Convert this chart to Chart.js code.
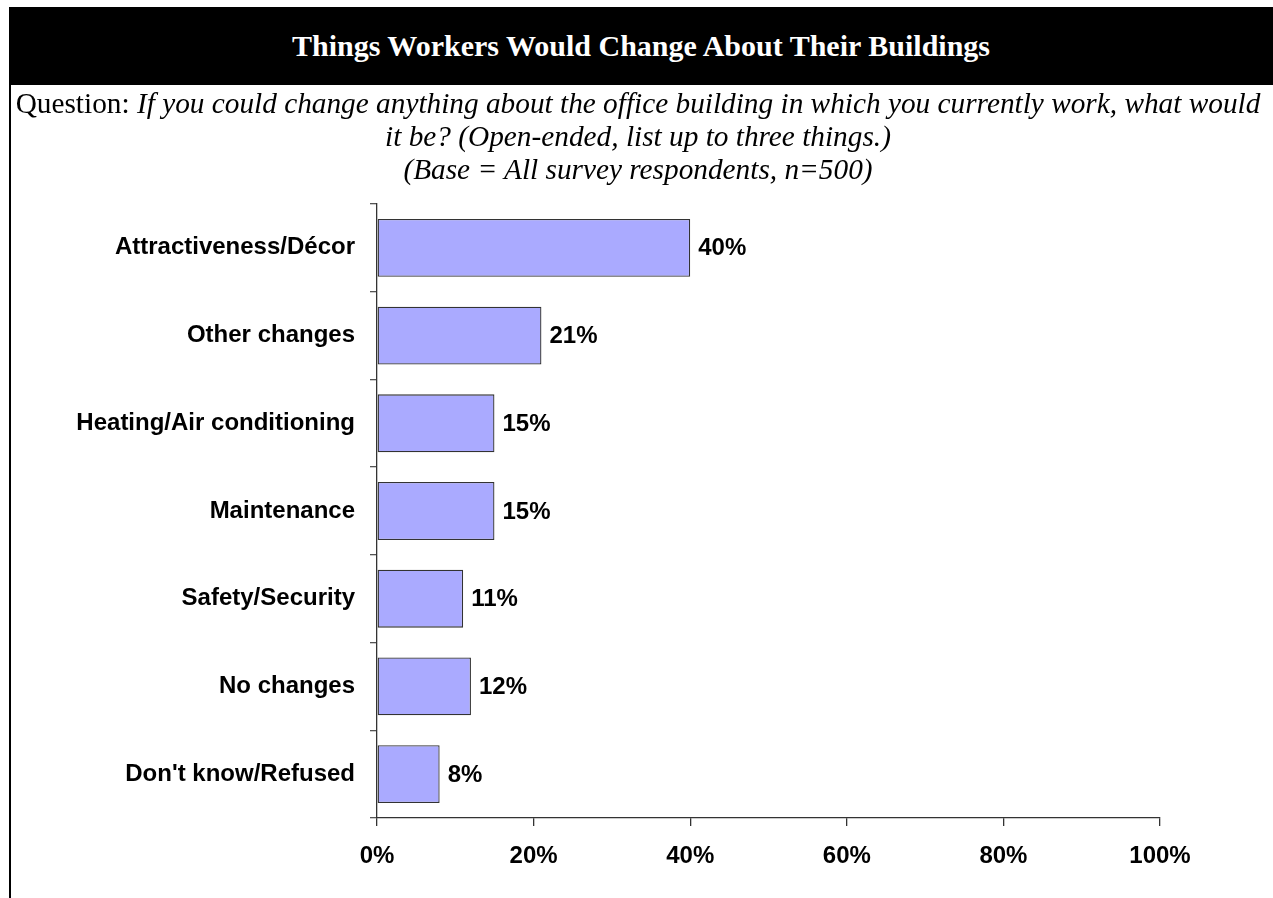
<!DOCTYPE html>
<html>
<head>
<meta charset="utf-8">
<script src="https://cdn.jsdelivr.net/npm/chart.js@4.4.1/dist/chart.umd.min.js"></script>
<style>
  html, body { margin: 0; padding: 0; background: #fff; }
  #wrap { position: relative; width: 1273px; height: 898px; overflow: hidden; background: #fff; }
  #c { position: absolute; left: 0; top: 0; }
  #titlebar { position: absolute; left: 9px; top: 7px; width: 1264px; height: 78px; background: #000;
    color: #fff; font-family: "Liberation Serif", "Times New Roman", serif; font-weight: bold; font-size: 30px;
    display: flex; align-items: center; justify-content: center; }
  #question { position: absolute; left: 11px; top: 87px; width: 1254px; text-align: center;
    font-family: "Liberation Serif", "Times New Roman", serif; font-size: 29.3px; line-height: 33px; color: #000; white-space: nowrap; }
  #border { position: absolute; left: 9px; top: 85px; width: 2px; height: 813px; background: #000; }
</style>
</head>
<body>
<div id="wrap">
  <canvas id="c" width="1273" height="898"></canvas>
  <div id="titlebar">Things Workers Would Change About Their Buildings</div>
  <div id="border"></div>
  <div id="question">Question: <i>If you could change anything about the office building in which you currently work, what would</i><br><i>it be? (Open-ended, list up to three things.)</i><br><i>(Base = All survey respondents, n=500)</i></div>
</div>
<script>
const categories = ["Attractiveness/Décor", "Other changes", "Heating/Air conditioning", "Maintenance", "Safety/Security", "No changes", "Don't know/Refused"];
const values = [40, 21, 15, 15, 11, 12, 8];
const xTickValues = [0, 20, 40, 60, 80, 100];

const labelFont = { family: "'Liberation Sans', Arial, sans-serif", size: 24, weight: 'bold' };

const valueLabels = {
  id: 'valueLabels',
  afterDatasetsDraw(chart) {
    const ctx = chart.ctx;
    const meta = chart.getDatasetMeta(0);
    ctx.save();
    ctx.font = "bold 24px 'Liberation Sans', Arial, sans-serif";
    ctx.fillStyle = '#000';
    ctx.textAlign = 'left';
    ctx.textBaseline = 'middle';
    meta.data.forEach((bar, i) => {
      ctx.fillText(values[i] + '%', bar.x + 8, bar.y + 1);
    });
    ctx.restore();
  }
};

new Chart(document.getElementById('c'), {
  type: 'bar',
  data: {
    labels: categories,
    datasets: [{
      data: values,
      backgroundColor: '#AAAAFF',
      borderColor: '#333333',
      borderWidth: 1.3,
      borderSkipped: false,
      barPercentage: 0.66,
      categoryPercentage: 1.0
    }]
  },
  options: {
    indexAxis: 'y',
    responsive: false,
    animation: false,
    devicePixelRatio: 1,
    layout: { padding: { top: 204, right: 113, left: 0, bottom: 0 } },
    plugins: { legend: { display: false }, tooltip: { enabled: false }, title: { display: false } },
    scales: {
      y: {
        type: 'category',
        offset: true,
        grid: { offset: true, drawOnChartArea: false, drawTicks: true, tickLength: 7, color: '#555', lineWidth: 1.3 },
        border: { display: true, color: '#333', width: 1.3 },
        ticks: { color: '#000', font: labelFont, padding: 15 },
        afterFit(scale) { scale.width = 377; }
      },
      x: {
        type: 'linear',
        min: 0, max: 100,
        afterBuildTicks(scale) { scale.ticks = xTickValues.map(v => ({ value: v })); },
        grid: { drawOnChartArea: false, drawTicks: true, tickLength: 8, color: '#333', lineWidth: 1.3 },
        border: { display: true, color: '#333', width: 1.3 },
        ticks: { color: '#000', font: labelFont, padding: 16, callback: v => v + '%' },
        afterFit(scale) { scale.height = 80; }
      }
    }
  },
  plugins: [valueLabels]
});
</script>
</body>
</html>
